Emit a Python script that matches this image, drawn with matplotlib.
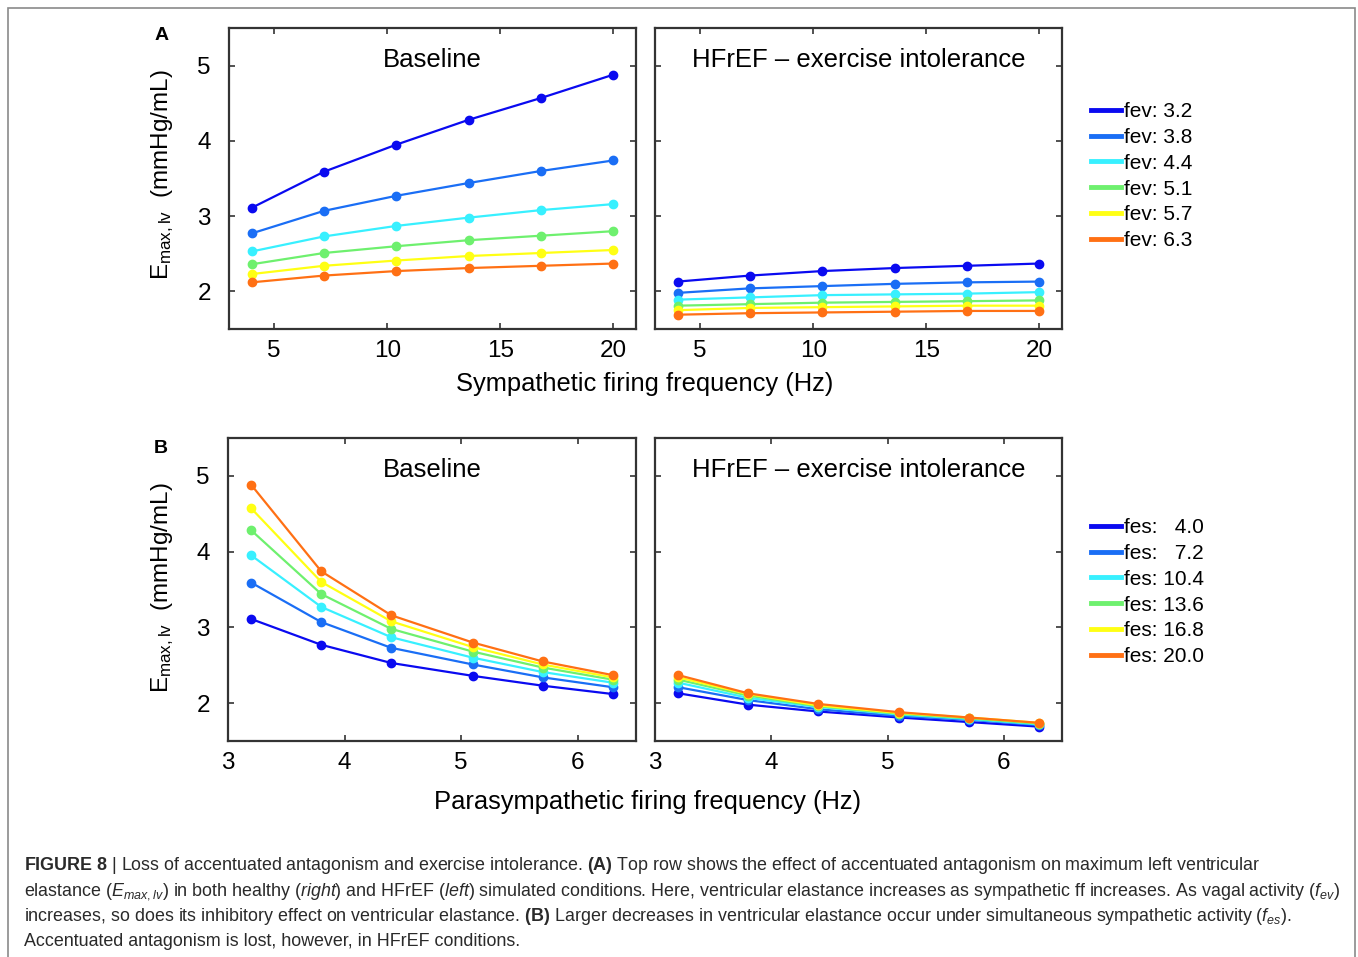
import matplotlib
matplotlib.use("Agg")
import matplotlib.pyplot as plt
from matplotlib.patches import Rectangle

plt.rcParams['font.family'] = ['Liberation Sans', 'DejaVu Sans']
plt.rcParams['mathtext.fontset'] = 'custom'
plt.rcParams['mathtext.rm'] = 'Liberation Sans'
plt.rcParams['mathtext.it'] = 'Liberation Sans:italic'
plt.rcParams['mathtext.bf'] = 'Liberation Sans:bold'

# sympathetic (fes) and parasympathetic (fev) firing frequencies, Hz
fes_vals = [4.0, 7.2, 10.4, 13.6, 16.8, 20.0]
fev_vals = [3.2, 3.8, 4.4, 5.1, 5.7, 6.3]

# Emax,lv (mmHg/mL); rows follow fev_vals, columns follow fes_vals
baseline_emax = [
    [3.11, 3.59, 3.95, 4.28, 4.57, 4.88],
    [2.77, 3.07, 3.27, 3.44, 3.60, 3.74],
    [2.53, 2.73, 2.87, 2.98, 3.08, 3.16],
    [2.36, 2.51, 2.60, 2.68, 2.74, 2.80],
    [2.23, 2.34, 2.41, 2.47, 2.51, 2.55],
    [2.12, 2.21, 2.27, 2.31, 2.34, 2.37],
]
hfref_emax = [
    [2.13, 2.21, 2.27, 2.31, 2.34, 2.37],
    [1.98, 2.04, 2.07, 2.10, 2.12, 2.13],
    [1.89, 1.92, 1.95, 1.96, 1.97, 1.99],
    [1.81, 1.83, 1.85, 1.86, 1.87, 1.88],
    [1.75, 1.78, 1.79, 1.80, 1.81, 1.81],
    [1.69, 1.71, 1.72, 1.73, 1.74, 1.74],
]

fev_labels = ['fev: 3.2', 'fev: 3.8', 'fev: 4.4', 'fev: 5.1', 'fev: 5.7', 'fev: 6.3']
fes_labels = ['fes:   4.0', 'fes:   7.2', 'fes: 10.4', 'fes: 13.6', 'fes: 16.8', 'fes: 20.0']
line_colors = ['#0a0af0', '#1a6ef5', '#38f0ff', '#6ef06e', '#ffff14', '#ff7014']

W, H = 1358, 957
fig = plt.figure(figsize=(W / 100, H / 100), dpi=100)


def px_axes(x0, y0, x1, y1):
    # axes from pixel box (top-left origin)
    return fig.add_axes([x0 / W, 1 - y1 / H, (x1 - x0) / W, (y1 - y0) / H])


def style_axes(ax, xlim, xticks, show_ylabels):
    ax.set_xlim(*xlim)
    ax.set_ylim(1.5, 5.5)
    ax.set_xticks(xticks)
    ax.set_yticks([2, 3, 4, 5])
    ax.tick_params(direction='in', top=True, right=True, length=4, width=1.2,
                   labelsize=17.5, color='#333333')
    ax.tick_params(axis='x', pad=8)
    ax.tick_params(axis='y', pad=13)
    if not show_ylabels:
        ax.set_yticklabels([])
    for s in ax.spines.values():
        s.set_linewidth(1.6)
        s.set_color('#333333')


axA1 = px_axes(229, 28, 636, 329)
axA2 = px_axes(655, 28, 1062, 329)
axB1 = px_axes(228, 438, 636, 741)
axB2 = px_axes(655, 438, 1062, 741)

# row A: x = sympathetic frequency, one line per fev
for ax, data in [(axA1, baseline_emax), (axA2, hfref_emax)]:
    for i, row in enumerate(data):
        ax.plot(fes_vals, row, '-o', color=line_colors[i], lw=1.6, ms=6,
                label=fev_labels[i])

# row B: x = parasympathetic frequency, one line per fes
for ax, data in [(axB1, baseline_emax), (axB2, hfref_emax)]:
    for j in range(len(fes_vals)):
        col = [data[i][j] for i in range(len(fev_vals))]
        ax.plot(fev_vals, col, '-o', color=line_colors[j], lw=1.6, ms=6,
                label=fes_labels[j])

style_axes(axA1, (3, 21), [5, 10, 15, 20], True)
style_axes(axA2, (3, 21), [5, 10, 15, 20], False)
style_axes(axB1, (3, 6.5), [3, 4, 5, 6], True)
style_axes(axB2, (3, 6.5), [3, 4, 5, 6], False)

for ax in (axA1, axB1):
    ax.text(0.5, 0.895, 'Baseline', transform=ax.transAxes, ha='center',
            va='center', fontsize=18.5)
for ax in (axA2, axB2):
    ax.text(0.5, 0.895, 'HFrEF \u2013 exercise intolerance', transform=ax.transAxes,
            ha='center', va='center', fontsize=18.5)

# legends outside the right panels
for ax, top in [(axA2, 102), (axB2, 518)]:
    leg = ax.legend(loc='upper left', bbox_to_anchor=(1091 / W, 1 - top / H),
                    bbox_transform=fig.transFigure, frameon=False, fontsize=15,
                    handlelength=1.45, handletextpad=0.12, labelspacing=0.33,
                    borderpad=0, borderaxespad=0)
    for ln in leg.get_lines():
        ln.set_linewidth(3.5)
        ln.set_marker('')

# shared labels
ylab = r'E$_{\rm max,lv}$  (mmHg/mL)'
fig.text(163 / W, 1 - 175 / H, ylab, rotation=90, ha='center', va='center', fontsize=17.5)
fig.text(163 / W, 1 - 588 / H, ylab, rotation=90, ha='center', va='center', fontsize=17.5)
fig.text(645 / W, 1 - 384 / H, 'Sympathetic firing frequency (Hz)', ha='center',
         va='center', fontsize=18.4)
fig.text(648 / W, 1 - 802 / H, 'Parasympathetic firing frequency (Hz)', ha='center',
         va='center', fontsize=18.4)
fig.text(162 / W, 1 - 36 / H, 'A', ha='center', va='center', fontsize=14, fontweight='bold')
fig.text(161 / W, 1 - 448 / H, 'B', ha='center', va='center', fontsize=14, fontweight='bold')

# caption
cap_lines = [
    r'$\mathbf{FIGURE\ 8}$ | Loss of accentuated antagonism and exercise intolerance. '
    r'$\mathbf{(A)}$ Top row shows the effect of accentuated antagonism on maximum left ventricular',
    r'elastance ($\mathit{E}_{\mathit{max,lv}}$) in both healthy ($\mathit{right}$) and HFrEF '
    r'($\mathit{left}$) simulated conditions. Here, ventricular elastance increases as sympathetic '
    r'ff increases. As vagal activity ($\mathit{f}_{\mathit{ev}}$)',
    r'increases, so does its inhibitory effect on ventricular elastance. $\mathbf{(B)}$ Larger '
    r'decreases in ventricular elastance occur under simultaneous sympathetic activity '
    r'($\mathit{f}_{\mathit{es}}$).',
    'Accentuated antagonism is lost, however, in HFrEF conditions.',
]
for k, line in enumerate(cap_lines):
    fig.text(24 / W, 1 - (870 + 25.3 * k) / H, line, ha='left', va='baseline',
             fontsize=12.9, color='#2a2a2a')

# frame around figure and caption
fig.patches.append(Rectangle((8 / W, -0.01), (1355 - 8) / W, 1.01 - 8 / H,
                             transform=fig.transFigure, fill=False,
                             edgecolor='#8a8a8a', linewidth=1.2))

fig.savefig('out.png', dpi=100)
